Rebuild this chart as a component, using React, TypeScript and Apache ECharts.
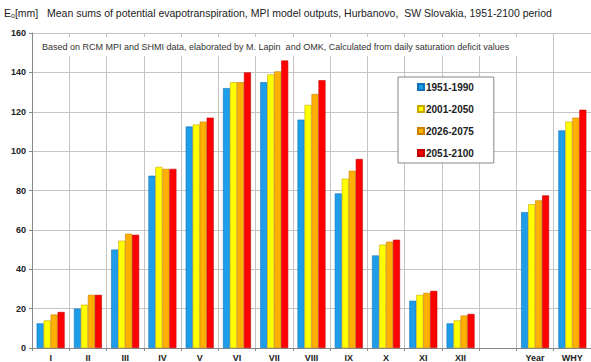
import React, { useEffect, useRef } from "react";
import * as echarts from "echarts";

const categories = ["I", "II", "III", "IV", "V", "VI", "VII", "VIII", "IX", "X", "XI", "XII", "", "Year", "WHY"];
const seriesNames = ["1951-1990", "2001-2050", "2026-2075", "2051-2100"];
const s1951 = [12.5, 20, 50, 87.5, 112.5, 132, 135, 116, 78.5, 47, 24, 12.5, null, 69, 110.5];
const s2001 = [14, 22, 54.5, 92, 113.5, 135, 139, 123.5, 86, 52.5, 27, 14, null, 73, 115];
const s2026 = [17, 27, 58, 91, 115, 135, 140.5, 129, 90, 54, 28, 16.5, null, 75, 117];
const s2051 = [18.3, 27, 57.5, 91, 117, 140, 146, 136, 96, 55, 29, 17.3, null, 77.5, 121];
const yTicks = { min: 0, max: 160, interval: 20 };

const colors = ["#1E9DE8", "#FFFF00", "#FFB000", "#FF0000"];
const borders = ["#1070B8", "#C8A800", "#C88000", "#C00000"];

export default function App() {
  const ref = useRef<HTMLDivElement>(null);
  useEffect(() => {
    if (!ref.current) return;
    const chart = echarts.init(ref.current, undefined, { renderer: "svg" });
    const data = [s1951, s2001, s2026, s2051];
    chart.setOption({
      animation: false,
      textStyle: { fontFamily: "Liberation Sans, Arial, sans-serif" },
      title: {
        left: 4,
        top: 6,
        padding: 0,
        text: "{e|E}{sub|o}{e|[mm]   Mean sums of potential evapotranspiration, MPI model outputs, Hurbanovo,  SW Slovakia, 1951-2100 period}",
        textStyle: {
          fontWeight: "normal",
          rich: {
            e: { fontSize: 10.5, fontWeight: "normal", color: "#222", fontFamily: "Liberation Sans" },
            sub: { fontSize: 7, fontWeight: "normal", color: "#222", fontFamily: "Liberation Sans", verticalAlign: "bottom", padding: [6, 0, 0, 0] },
          },
        },
      },
      legend: {
        orient: "vertical",
        left: 398,
        top: 77,
        padding: [5, 20, 5, 19],
        itemGap: 12,
        itemWidth: 6,
        itemHeight: 6,
        icon: "rect",
        backgroundColor: "#fff",
        borderColor: "#888",
        borderWidth: 1,
        textStyle: { fontSize: 10, fontWeight: "bold", color: "#222", fontFamily: "Liberation Sans", padding: [0, 0, 0, -3] },
        data: seriesNames,
      },
      grid: { left: 32, right: 0, top: 33, bottom: 13, containLabel: false },
      xAxis: {
        type: "category",
        data: categories,
        boundaryGap: true,
        axisLine: { show: true, lineStyle: { color: "#888" } },
        axisTick: { show: true, alignWithLabel: false, length: 3, lineStyle: { color: "#888" } },
        axisLabel: { fontSize: 9, fontWeight: "bold", color: "#222", margin: 5, interval: 0, fontFamily: "Liberation Sans" },
        splitLine: { show: true, interval: 0, lineStyle: { color: "#c4c4c4" } },
      },
      yAxis: {
        type: "value",
        min: yTicks.min,
        max: yTicks.max,
        interval: yTicks.interval,
        axisLine: { show: true, lineStyle: { color: "#888" } },
        axisTick: { show: true, length: 3, lineStyle: { color: "#888" } },
        axisLabel: { fontSize: 9, fontWeight: "bold", color: "#222", margin: 6, fontFamily: "Liberation Sans" },
        splitLine: { show: true, lineStyle: { color: "#c4c4c4" } },
      },
      graphic: [
        { type: "rect", z: 10, shape: { x: 33, y: 37, width: 518, height: 19 }, style: { fill: "#fff" } },
        {
          type: "text",
          z: 11,
          x: 42,
          y: 47,
          style: {
            text: "Based on RCM MPI and SHMI data, elaborated by M. Lapin  and OMK, Calculated from daily saturation deficit values",
            fontSize: 9,
            fill: "#333",
            fontFamily: "Liberation Sans",
            verticalAlign: "middle",
          },
        },
      ],
      series: data.map((d, i) => ({
        name: seriesNames[i],
        type: "bar",
        data: d,
        barGap: "0%",
        barCategoryGap: "25%",
        itemStyle: { color: colors[i], borderColor: borders[i], borderWidth: 0.6 },
      })),
    });
    return () => chart.dispose();
  }, []);
  return <div ref={ref} style={{ position: "absolute", left: 0, top: 0, width: 591, height: 362 }} />;
}
